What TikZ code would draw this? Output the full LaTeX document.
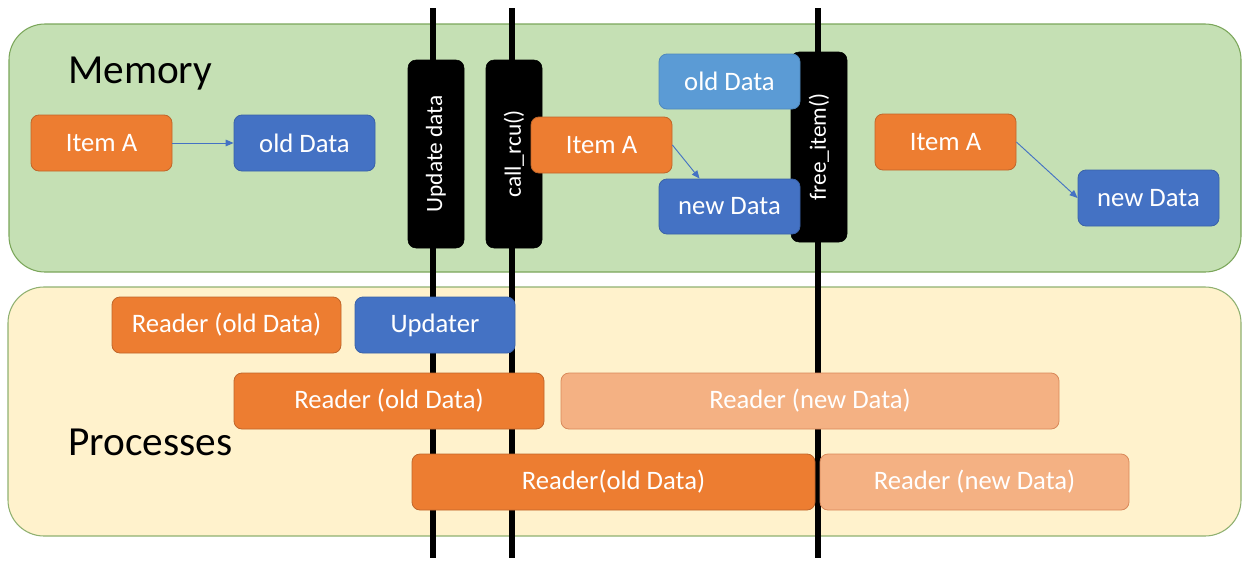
\documentclass[tikz,border=0pt]{standalone}
\usepackage{fontspec}
\setmainfont{Carlito}
\usetikzlibrary{arrows.meta}
\definecolor{memfill}{HTML}{C5E0B4}
\definecolor{memline}{HTML}{7BA65A}
\definecolor{procfill}{HTML}{FFF2CC}
\definecolor{procline}{HTML}{8FB070}
\definecolor{orng}{HTML}{ED7D31}
\definecolor{orngline}{HTML}{C0662A}
\definecolor{lorng}{HTML}{F4B183}
\definecolor{lorngline}{HTML}{D9895A}
\definecolor{blu}{HTML}{4472C4}
\definecolor{bluline}{HTML}{3A62A8}
\definecolor{lblu}{HTML}{5B9BD5}
\definecolor{lbluline}{HTML}{4F88BD}
\tikzset{
  panel/.style={rounded corners=27pt, line width=0.8pt},
  box/.style={rectangle, rounded corners=6pt, line width=0.6pt, text=white,
    font=\fontsize{20pt}{24pt}\selectfont, inner sep=0pt,
    minimum width=#1*0.75pt, minimum height=56*0.75pt},
  obox/.style={box=#1, fill=orng, draw=orngline},
  lobox/.style={box=#1, fill=lorng, draw=lorngline},
  bbox/.style={box=#1, fill=blu, draw=bluline},
  lbbox/.style={box=#1, fill=lblu, draw=lbluline},
  bar/.style={rectangle, rounded corners=6pt, fill=black, draw=black, text=white,
    rotate=90, inner sep=0pt, font=\fontsize{17.5pt}{21pt}\selectfont,
    minimum width=#1*0.75pt, minimum height=56*0.75pt},
  tline/.style={line width=3.8pt, black},
  arr/.style={draw=blu, line width=0.7pt, -{Triangle[length=6pt,width=5pt]}},
  title/.style={anchor=base west, inner sep=0pt, font=\fontsize{31pt}{36pt}\selectfont}
}
\begin{document}
\begin{tikzpicture}[x=0.75pt,y=-0.75pt]
\useasboundingbox (0,0) rectangle (1252,564);
% panels
\draw[panel, fill=memfill, draw=memline] (9,24) rectangle (1241,272);
\draw[panel, fill=procfill, draw=procline] (8,287) rectangle (1241,536);
\node[title] (mem) at (68,83) {Memory};
\node[title] (proc) at (68,455) {Processes};
% timelines
\coordinate (t1a) at (433,8); \coordinate (t1b) at (433,558);
\coordinate (t2a) at (512,8); \coordinate (t2b) at (512,558);
\coordinate (t3a) at (818,8); \coordinate (t3b) at (818,558);
\draw[tline] (t1a) -- (t1b);
\draw[tline] (t2a) -- (t2b);
\draw[tline] (t3a) -- (t3b);
% bars
\node[bar=188] (upd) at (436,154) {Update data};
\node[bar=188] (rcu) at (514,154) {call\_rcu()};
\node[bar=190] (free) at (819,147) {free\_item()};
% memory boxes
\node[obox=141] (ia1) at (101.5,143) {Item A};
\node[bbox=141] (od1) at (304.5,143) {old Data};
\node[obox=141] (ia2) at (601.5,145) {Item A};
\node[lbbox=141, minimum height=55*0.75pt] (od2) at (729.5,81.5) {old Data};
\node[bbox=141, minimum height=55*0.75pt] (nd2) at (729.5,206.5) {new Data};
\node[obox=141] (ia3) at (945.5,142) {Item A};
\node[bbox=141] (nd3) at (1148.5,198) {new Data};
\draw[arr] (ia1.east) -- (od1.west);
\draw[arr] (ia2.east) -- (nd2.137);
\draw[arr] (ia3.east) -- (nd3.west);
% process boxes
\node[obox=229] (r1) at (226.5,325) {Reader (old Data)};
\node[bbox=160] (up) at (435,325) {Updater};
\node[obox=310] (r2) at (389,401) {Reader (old Data)};
\node[lobox=498] (rn1) at (810,401) {Reader (new Data)};
\node[obox=403] (r3) at (613.5,482) {Reader(old Data)};
\node[lobox=309] (rn2) at (974.5,482) {Reader (new Data)};
\end{tikzpicture}
\end{document}
